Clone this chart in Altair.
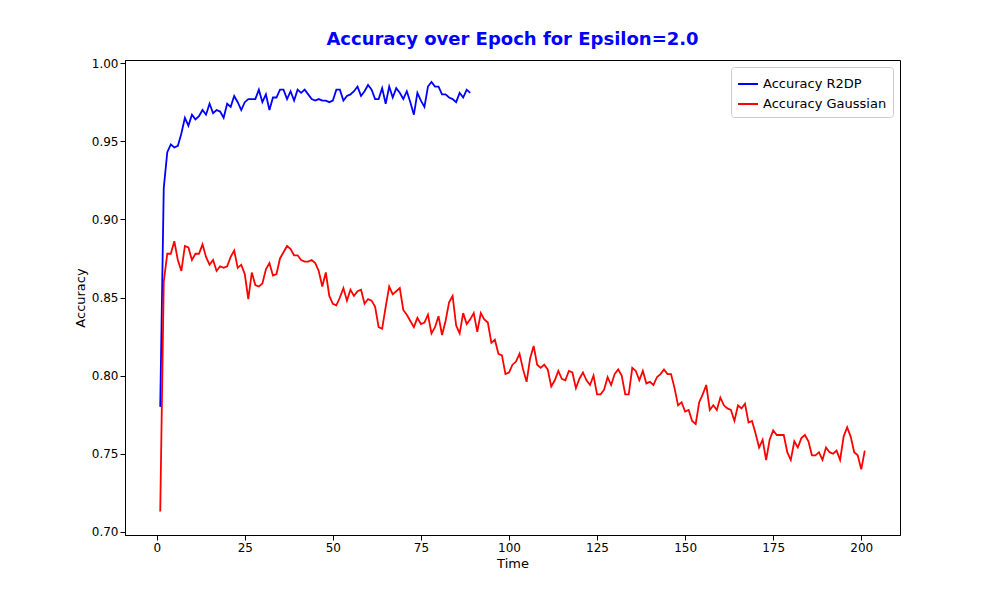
import altair as alt
import pandas as pd

r2dp = [0.78,0.92,0.943,0.948,0.946,0.947,0.955,0.965,0.96,0.967,0.964,0.966,0.970,0.967,0.974,0.968,0.970,0.969,0.965,0.974,
0.972,0.979,0.975,0.970,0.975,0.977,0.977,0.977,0.983,0.975,0.980,0.970,0.978,0.978,0.983,0.983,0.977,0.982,0.976,0.983,
0.981,0.983,0.980,0.977,0.976,0.977,0.976,0.976,0.975,0.976,0.983,0.983,0.976,0.979,0.980,0.982,0.985,0.979,0.982,0.986,
0.983,0.977,0.977,0.984,0.974,0.985,0.978,0.984,0.981,0.977,0.982,0.975,0.967,0.981,0.976,0.972,0.985,0.988,0.985,0.985,
0.980,0.980,0.978,0.977,0.975,0.981,0.978,0.983,0.981]
gauss = [0.713,0.86,0.878,0.878,0.886,0.874,0.867,0.883,0.882,0.874,0.878,0.878,0.884,0.876,0.871,0.874,0.867,0.870,0.869,0.870,
0.876,0.880,0.869,0.871,0.865,0.849,0.866,0.858,0.857,0.859,0.868,0.872,0.864,0.865,0.875,0.879,0.883,0.881,0.877,0.877,
0.874,0.873,0.873,0.874,0.872,0.867,0.857,0.866,0.851,0.846,0.845,0.850,0.856,0.848,0.855,0.851,0.854,0.855,0.846,0.849,
0.848,0.844,0.831,0.830,0.844,0.857,0.852,0.854,0.856,0.842,0.839,0.835,0.831,0.837,0.833,0.834,0.839,0.827,0.831,0.838,
0.826,0.835,0.847,0.851,0.832,0.827,0.840,0.833,0.836,0.840,0.828,0.840,0.836,0.834,0.821,0.823,0.814,0.813,0.801,0.802,
0.807,0.809,0.814,0.804,0.796,0.811,0.819,0.807,0.805,0.807,0.804,0.793,0.797,0.803,0.798,0.797,0.803,0.802,0.792,0.798,
0.802,0.797,0.794,0.800,0.788,0.788,0.791,0.799,0.794,0.801,0.804,0.800,0.788,0.788,0.805,0.803,0.797,0.803,0.795,0.796,
0.794,0.799,0.801,0.804,0.801,0.801,0.792,0.781,0.783,0.777,0.778,0.771,0.769,0.783,0.788,0.794,0.778,0.781,0.778,0.786,
0.781,0.779,0.778,0.771,0.781,0.779,0.782,0.770,0.771,0.763,0.754,0.759,0.746,0.759,0.765,0.762,0.762,0.762,0.751,0.746,
0.758,0.754,0.760,0.762,0.758,0.749,0.749,0.751,0.746,0.754,0.751,0.750,0.752,0.746,0.761,0.767,0.761,0.751,0.749,0.740,
0.752]

rows = [{"Time": i + 1, "Accuracy": v, "Series": "Accuracy R2DP"} for i, v in enumerate(r2dp)]
rows += [{"Time": i + 1, "Accuracy": v, "Series": "Accuracy Gaussian"} for i, v in enumerate(gauss)]
df = pd.DataFrame(rows)

chart = alt.Chart(df).mark_line(strokeWidth=1.8, clip=True).encode(
    x=alt.X("Time:Q", scale=alt.Scale(domain=[-9, 211], nice=False),
            axis=alt.Axis(values=[0, 25, 50, 75, 100, 125, 150, 175, 200], grid=False, title="Time")),
    y=alt.Y("Accuracy:Q", scale=alt.Scale(domain=[0.698, 1.002], nice=False, zero=False),
            axis=alt.Axis(values=[0.70, 0.75, 0.80, 0.85, 0.90, 0.95, 1.00], format=".2f", grid=False, title="Accuracy")),
    color=alt.Color("Series:N",
                    scale=alt.Scale(domain=["Accuracy R2DP", "Accuracy Gaussian"], range=["#0000ff", "#ff0000"]),
                    legend=alt.Legend(title=None, orient="top-right", offset=7, symbolType="stroke", symbolStrokeWidth=2,
                                      labelFontSize=13, fillColor="white", strokeColor="#cccccc",
                                      padding=6, cornerRadius=3, symbolSize=400)),
).properties(
    width=775, height=475,
    title=alt.TitleParams("Accuracy over Epoch for Epsilon=2.0", color="#0000ff", fontSize=18, fontWeight="bold",
                          font="DejaVu Sans", offset=8),
    padding={"left": 117, "top": 52, "right": 10, "bottom": 50},
    autosize=alt.AutoSizeParams(type="none"),
).configure_axis(
    labelFont="DejaVu Sans", titleFont="DejaVu Sans", labelFontSize=12, titleFontSize=13,
    titleFontWeight="normal", labelColor="black", titleColor="black", domainColor="black", tickColor="black",
).configure_legend(labelFont="DejaVu Sans").configure_view(stroke="black")

chart.save("out.html", embed_options={"renderer": "svg", "actions": False})
